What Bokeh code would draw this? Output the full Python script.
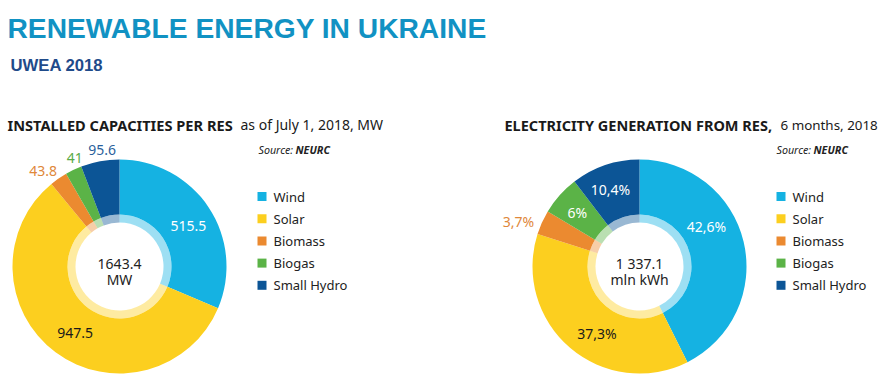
import math
from bokeh.plotting import figure
from bokeh.models import Range1d, ColumnDataSource
from bokeh.core.properties import value
from bokeh.embed import file_html
from bokeh.resources import INLINE

# ---------------- data ----------------
categories = ["Wind", "Solar", "Biomass", "Biogas", "Small Hydro"]
capacity_mw = [515.5, 947.5, 43.8, 41.0, 95.6]
capacity_labels = ["515.5", "947.5", "43.8", "41", "95.6"]
generation_pct = [42.6, 37.3, 3.7, 6.0, 10.4]
generation_labels = ["42,6%", "37,3%", "3,7%", "6%", "10,4%"]
capacity_total = ["1643.4", "MW"]
generation_total = ["1 337.1", "mln kWh"]

colors = ["#15b2e2", "#fccf1f", "#eb8a30", "#5bb347", "#0c5596"]

# ---------------- layout helpers (reference pixel coords) ----------------
W, H = 880, 385
def X(xr):
    return xr
def Y(yr):
    return H - yr

FONT = "Noto Sans"
p = figure(width=W, height=H, x_range=Range1d(0, W), y_range=Range1d(0, H),
           output_backend="svg", toolbar_location=None, min_border=0,
           background_fill_color="white", border_fill_color="white")
p.outline_line_color = None
p.xaxis.visible = False
p.yaxis.visible = False
p.xgrid.visible = False
p.ygrid.visible = False


def txt(x, y, s, size, color="#222222", style="normal", align="left", font=FONT):
    p.text(x=[X(x)], y=[Y(y)], text=[s], text_font=value(font), text_font_size=size,
           text_font_style=style, text_color=color, text_align=align,
           text_baseline="middle")


def donut(cx, cy, values, labels, label_r, label_shift_cw, label_colors, total):
    tot = sum(values)
    cum = [0.0]
    for v in values:
        cum.append(cum[-1] + v)
    starts = [math.pi / 2 - 2 * math.pi * c / tot for c in cum[:-1]]
    ends = [math.pi / 2 - 2 * math.pi * c / tot for c in cum[1:]]
    src = ColumnDataSource(dict(start=starts, end=ends, color=colors))
    p.annular_wedge(x=X(cx), y=Y(cy), inner_radius=52, outer_radius=107,
                    start_angle="start", end_angle="end", direction="clock",
                    fill_color="color", line_color=None, source=src)
    p.annular_wedge(x=X(cx), y=Y(cy), inner_radius=44, outer_radius=52,
                    start_angle="start", end_angle="end", direction="clock",
                    fill_color="color", fill_alpha=0.42, line_color=None, source=src)
    # labels
    for i, lab in enumerate(labels):
        mid = (starts[i] + ends[i]) / 2 - math.radians(label_shift_cw[i])
        lx = X(cx) + label_r[i] * math.cos(mid)
        ly = Y(cy) + label_r[i] * math.sin(mid)
        p.text(x=[lx], y=[ly], text=[lab], text_font=value(FONT), text_font_size="14px",
               text_color=label_colors[i], text_align="center", text_baseline="middle")
    txt(cx, cy - 3, total[0], "14px", "#222222", align="center")
    txt(cx, cy + 13, total[1], "14px", "#222222", align="center")


def legend(x0, y0):
    for i, c in enumerate(categories):
        yy = y0 + i * 22.2
        p.rect(x=[X(x0)], y=[Y(yy)], width=9, height=9, fill_color=colors[i], line_color=None)
        txt(x0 + 11.5, yy, c, "13px", "#222222")


# title
txt(7, 27, "RENEWABLE ENERGY IN UKRAINE", "28.2px", "#1192c3", "bold", font="Liberation Sans")
txt(10, 65, "UWEA 2018", "16.7px", "#1f4b8a", "bold", font="Liberation Sans")

# left chart
txt(7, 124, "INSTALLED CAPACITIES PER RES", "14.6px", "#1a1a1a", "bold")
txt(240, 124, "as of July 1, 2018, MW", "14px", "#1a1a1a")
txt(258, 149, "Source:", "10.7px", "#222222", "italic")
txt(295, 149, "NEURC", "10.7px", "#222222", "bold italic")
donut(119, 266, capacity_mw, capacity_labels,
      [80, 80, 122, 117, 118], [3, -3, -4, 3, 2],
      ["white", "#1a1a1a", "#e0883a", "#5aab47", "#2a5f9c"], capacity_total)
legend(261.5, 196)

# right chart
txt(504, 124, "ELECTRICITY GENERATION FROM RES,", "14.5px", "#1a1a1a", "bold")
txt(780, 124, "6 months, 2018", "13.4px", "#1a1a1a")
txt(776, 149, "Source:", "10.7px", "#222222", "italic")
txt(813, 149, "NEURC", "10.7px", "#222222", "bold italic")
donut(639, 266, generation_pct, generation_labels,
      [78, 79, 129, 82, 82], [-17.7, -8, -4, -1, -2],
      ["white", "#1a1a1a", "#e0883a", "white", "white"], generation_total)
legend(780.5, 196)

open("out.html", "w").write(file_html(p, INLINE))
